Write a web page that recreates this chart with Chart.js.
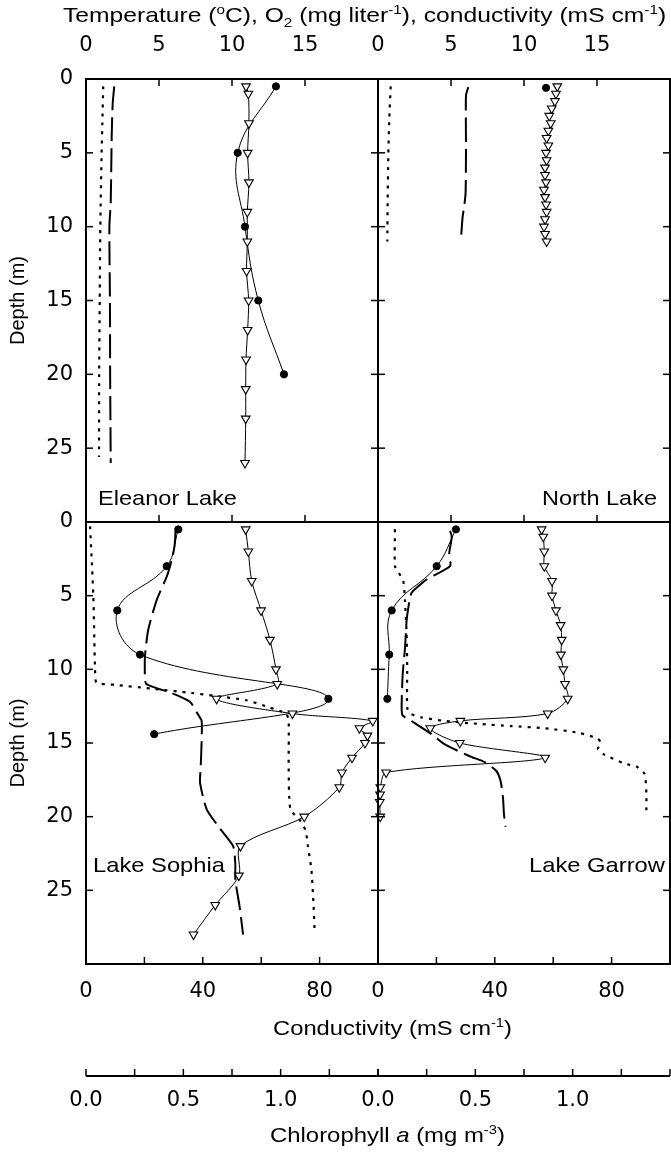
<!DOCTYPE html>
<html>
<head>
<meta charset="utf-8">
<script src="https://cdn.jsdelivr.net/npm/chart.js@4.4.1/dist/chart.umd.min.js"></script>
<style>
  html, body { margin: 0; padding: 0; background: #fff; }
  #fig { position: relative; width: 671px; height: 1152px; overflow: hidden; background: #fff; }
  #fig canvas { position: absolute; left: 0; top: 0; }
  .lbl { position: absolute; font-family: "Liberation Sans", Arial, sans-serif; font-size: 21px; line-height: 21px;
         white-space: nowrap; color: #000; transform-origin: 0 0; }
  .lbl sup, .lbl sub { font-size: 13px; line-height: 0; }
</style>
</head>
<body>
<div id="fig">
  <canvas id="elCanvas" width="671" height="1152"></canvas>
  <canvas id="nlCanvas" width="671" height="1152"></canvas>
  <canvas id="lsCanvas" width="671" height="1152"></canvas>
  <canvas id="lgCanvas" width="671" height="1152"></canvas>

  <div class="lbl" data-l="63" data-r="666" style="top:4px">Temperature (<sup>o</sup>C), O<sub>2</sub> (mg liter<sup>-1</sup>), conductivity (mS cm<sup>-1</sup>)</div>
  <div class="lbl" data-l="98" data-r="237" style="top:487px">Eleanor Lake</div>
  <div class="lbl" data-l="542" data-r="657" style="top:487px">North Lake</div>
  <div class="lbl" data-l="93" data-r="225" style="top:854px">Lake Sophia</div>
  <div class="lbl" data-l="529" data-r="665" style="top:854px">Lake Garrow</div>
  <div class="lbl" data-l="273" data-r="512" style="top:1017px">Conductivity (mS cm<sup>-1</sup>)</div>
  <div class="lbl" data-l="270" data-r="505" style="top:1124px">Chlorophyll <i>a</i> (mg m<sup>-3</sup>)</div>
</div>
<script>
// axis ticks and labels
const depthTicks = [5, 10, 15, 20, 25];
const depthLabels = [0, 5, 10, 15, 20, 25];
const tempTicks = [5, 10, 15];
const tempLabels = [0, 5, 10, 15];
const condTicks = [20, 40, 60, 80];
const condLabels = [0, 40, 80];
const chlTicks = [0, 0.25, 0.5, 0.75, 1, 1.25, 1.5];
const chlLabels = [0, 0.5, 1];

// Eleanor Lake
const elTempDepth = [0.5, 1, 3, 5, 7, 9, 11, 13, 15, 17, 19, 21, 23, 26];
const elTemp = [10.96, 11.12, 11.16, 11.07, 11.16, 11.05, 11.05, 11.0, 11.14, 11.07, 10.96, 10.94, 10.94, 10.89];
const elO2Depth = [0.5, 5, 10, 15, 20];
const elO2 = [13.01, 10.39, 10.89, 11.8, 13.56];
const elCondDepth = [0.5, 3, 5, 10, 15, 20, 25.6];
const elCond = [1.18, 1.12, 1.07, 0.98, 0.94, 0.9, 0.89];
const elChlDepth = [0.5, 1.7, 3.9, 8.4, 10, 15, 20, 26];
const elChl = [0.145, 0.137, 0.132, 0.127, 0.12, 0.123, 0.124, 0.127];

// North Lake
const nlTempDepth = [0.5, 1, 1.5, 2, 2.5, 3, 3.5, 4, 4.5, 5, 5.5, 6, 6.5, 7, 7.5, 8, 8.5, 9, 9.5, 10, 10.5, 11];
const nlTemp = [12.28, 12.19, 12.12, 11.9, 11.73, 11.83, 11.67, 11.55, 11.67, 11.51, 11.55, 11.44, 11.44, 11.51, 11.37, 11.44, 11.51, 11.55, 11.44, 11.37, 11.44, 11.55];
const nlO2Depth = [0.6];
const nlO2 = [11.51];
const nlCondDepth = [0.5, 2.8, 5, 8.4, 11];
const nlCond = [0.87, 0.77, 0.71, 0.66, 0.64];
const nlChlDepth = [0.55, 1.1, 4.8, 7.7, 8.6, 9.3, 11];
const nlChl = [0.464, 0.452, 0.452, 0.45, 0.443, 0.435, 0.425];

// Lake Sophia
const lsTempDepth = [0.5, 2, 4, 6, 8, 10, 11, 12, 13, 13.5, 14, 14.5, 15, 16, 17, 18, 20, 22, 24, 26, 28];
const lsTemp = [10.94, 11.12, 11.35, 11.99, 12.6, 13.01, 13.1, 8.94, 14.14, 19.64, 18.73, 19.28, 19.11, 18.22, 17.53, 17.35, 14.95, 10.58, 10.47, 8.85, 7.36];
const lsO2Depth = [0.5, 3, 6, 9, 12, 14.4];
const lsO2 = [6.32, 5.53, 2.14, 3.7, 16.6, 4.67];
const lsCondDepth = [0.3, 5, 10, 10.9, 11.05, 11.3, 11.6, 11.8, 12.1, 12.6, 13.0, 13.5, 16.6, 19.5, 20.3, 21, 22, 23.6, 25.9, 27.8];
const lsCond = [1.4, 2.5, 3.1, 3.6, 10, 22, 36, 44, 55, 63, 68.5, 69.4, 69.4, 70, 73.5, 75.3, 76, 77.2, 77.9, 78.3];
const lsChlDepth = [0.6, 1.6, 2.6, 3.7, 5.3, 7.3, 9.1, 10.7, 11.0, 11.35, 11.55, 12.2, 13.1, 13.5, 14.9, 16.7, 17.7, 19.5, 20.8, 22.0, 23.2, 24.3, 26.1, 28.0];
const lsChl = [0.46, 0.455, 0.44, 0.415, 0.363, 0.32, 0.303, 0.303, 0.31, 0.38, 0.43, 0.534, 0.577, 0.594, 0.594, 0.589, 0.586, 0.62, 0.688, 0.756, 0.767, 0.767, 0.789, 0.807];

// Lake Garrow
const lgTempDepth = [0.5, 1, 2, 3, 4, 5, 6, 7, 8, 9, 10, 11, 12, 13, 13.5, 14, 15, 16, 17, 18, 18.5, 19, 20];
const lgTemp = [11.21, 11.32, 11.39, 11.39, 11.92, 11.92, 12.19, 12.51, 12.58, 12.53, 12.69, 12.81, 12.99, 11.62, 5.64, 3.58, 5.6, 11.45, 0.56, 0.16, 0.14, 0.12, 0.15];
const lgO2Depth = [0.5, 3, 6, 9, 12];
const lgO2 = [5.34, 4.02, 0.94, 0.77, 0.64];
const lgCondDepth = [0.5, 3.0, 3.4, 4.0, 5.4, 7.6, 9.9, 12.6, 13.0, 13.26, 13.5, 13.7, 13.85, 14.0, 14.3, 14.7, 15.0, 15.4, 15.8, 16.4, 16.6, 17.1, 18.4, 19.9];
const lgCond = [5.8, 5.8, 6.95, 8.66, 9.25, 9.8, 10.0, 10.0, 11, 14.8, 22.8, 34.2, 45.6, 57.1, 68.5, 75.3, 76.3, 75.3, 77.6, 84.5, 88.5, 91.3, 91.9, 91.9];
const lgChlDepth = [0.6, 1.0, 2.1, 3.0, 3.9, 4.8, 5.4, 6.7, 8.5, 10.3, 12.1, 13.1, 13.5, 14.4, 15.1, 15.9, 16.3, 16.9, 17.6, 18.7, 19.8, 20.7];
const lgChl = [0.37, 0.379, 0.366, 0.37, 0.25, 0.173, 0.161, 0.147, 0.139, 0.127, 0.122, 0.125, 0.171, 0.274, 0.343, 0.471, 0.548, 0.608, 0.63, 0.642, 0.647, 0.655];

const tickFont = { family: '"DejaVu Sans", sans-serif', size: 21 };

function pts(xs, ds) {
  return xs.map((v, i) => ({ x: v, y: ds[i] }));
}

// inward tick marks, the panel frame and the chlorophyll axis line
const frameTicks = {
  id: 'frameTicks',
  afterDraw(chart, args, o) {
    const { ctx, chartArea: a, scales } = chart;
    const L = 7;
    const mark = (x1, y1, x2, y2) => { ctx.beginPath(); ctx.moveTo(x1, y1); ctx.lineTo(x2, y2); ctx.stroke(); };
    ctx.save();
    ctx.strokeStyle = '#000';
    ctx.lineWidth = 1.5;
    depthTicks.forEach(v => {
      const p = scales.y.getPixelForValue(v);
      mark(a.left, p, a.left + L, p);
      mark(a.right, p, a.right - L, p);
    });
    if (o.upper) {
      tempTicks.forEach(v => {
        const p = scales.x.getPixelForValue(v);
        mark(p, a.top, p, a.top + L);
        mark(p, a.bottom, p, a.bottom - L);
      });
    } else {
      condTicks.forEach(v => {
        const p = scales.xc.getPixelForValue(v);
        mark(p, a.bottom, p, a.bottom - L);
      });
      const s = scales.xchl;
      ctx.lineWidth = 2;
      mark(s.left, s.top, s.right, s.top);
      ctx.lineWidth = 1.5;
      chlTicks.forEach(v => {
        const p = s.getPixelForValue(v);
        mark(p, s.top, p, s.top - L);
      });
    }
    ctx.lineWidth = 2;
    ctx.strokeRect(a.left, a.top, a.right - a.left, a.bottom - a.top);
    ctx.restore();
  }
};

function profileSets(tD, t, oD, o, cD, c, chD, ch, upper) {
  return [
    { data: pts(t, tD), xAxisID: 'x', yAxisID: 'y', showLine: true, borderColor: '#000', borderWidth: 1, tension: 0.3,
      pointStyle: 'triangle', pointRotation: 180, pointRadius: 5, pointBackgroundColor: '#fff',
      pointBorderColor: '#000', pointBorderWidth: 1.1, clip: false },
    { data: pts(o, oD), xAxisID: 'x', yAxisID: 'y', showLine: true, borderColor: '#000', borderWidth: 1, tension: 0.4,
      pointStyle: 'circle', pointRadius: 3.6, pointBackgroundColor: '#000', pointBorderColor: '#000', clip: false },
    { data: pts(ch, chD), xAxisID: 'xchl', yAxisID: 'y', showLine: true, borderColor: '#000', borderWidth: 2,
      borderDash: [24, 7], tension: 0.2, pointRadius: 0 },
    { data: pts(c, cD), xAxisID: upper ? 'x' : 'xc', yAxisID: 'y', showLine: true, borderColor: '#000', borderWidth: 2.2,
      borderDash: [3, 6], tension: 0.2, pointRadius: 0 }
  ];
}

// fixed axis sizes; hidden axes keep zero size
function fixHeight(h) {
  return s => { s.height = s.options.display ? h : 0; };
}
function fixWidth(w) {
  return s => { s.width = s.options.display ? w : 0; };
}

function panelScales(upper, left) {
  const noGrid = { display: false, drawTicks: false };
  const noBorder = { display: false };
  return {
    x: {
      type: 'linear', axis: 'x', position: 'top', min: 0, max: 20, display: upper,
      grid: noGrid, border: noBorder,
      afterBuildTicks: s => { s.ticks = tempLabels.map(v => ({ value: v })); },
      ticks: { font: tickFont, color: '#000', padding: 21, autoSkip: false, maxRotation: 0 },
      afterFit: fixHeight(79)
    },
    xc: {
      type: 'linear', axis: 'x', position: 'bottom', min: 0, max: 100, display: !upper, weight: 0,
      grid: noGrid, border: noBorder,
      afterBuildTicks: s => { s.ticks = condLabels.map(v => ({ value: v })); },
      ticks: { font: tickFont, color: '#000', padding: 15, autoSkip: false, maxRotation: 0 },
      afterFit: fixHeight(112)
    },
    xchl: {
      type: 'linear', axis: 'x', position: 'bottom', min: 0, max: 1.5, display: !upper, weight: 1,
      grid: noGrid, border: noBorder,
      afterBuildTicks: s => { s.ticks = chlLabels.map(v => ({ value: v })); },
      ticks: { font: tickFont, color: '#000', padding: 12, autoSkip: false, maxRotation: 0,
               callback: v => v.toFixed(1) },
      afterFit: fixHeight(76)
    },
    y: {
      type: 'linear', position: 'left', min: 0, max: 30, reverse: true, display: left,
      grid: noGrid, border: noBorder,
      afterBuildTicks: s => { s.ticks = depthLabels.map(v => ({ value: v })); },
      ticks: { font: tickFont, color: '#000', padding: 13, autoSkip: false },
      title: { display: true, text: 'Depth (m)', color: '#000', padding: { top: 6, bottom: 0 },
               font: { family: '"Liberation Sans", Arial, sans-serif', size: 20 } },
      afterFit: fixWidth(86)
    }
  };
}

function makePanel(id, sets, upper, left, padding) {
  return new Chart(document.getElementById(id), {
    type: 'scatter',
    data: { datasets: sets },
    options: {
      responsive: false,
      animation: false,
      devicePixelRatio: 1,
      events: [],
      layout: { padding: padding, autoPadding: false },
      scales: panelScales(upper, left),
      plugins: { legend: { display: false }, tooltip: { enabled: false }, frameTicks: { upper: upper } }
    },
    plugins: [frameTicks]
  });
}

makePanel('elCanvas', profileSets(elTempDepth, elTemp, elO2Depth, elO2, elCondDepth, elCond, elChlDepth, elChl, true),
  true, true, { left: 0, top: 0, right: 293, bottom: 630 });
makePanel('nlCanvas', profileSets(nlTempDepth, nlTemp, nlO2Depth, nlO2, nlCondDepth, nlCond, nlChlDepth, nlChl, true),
  true, false, { left: 378, top: 0, right: 1, bottom: 630 });
makePanel('lsCanvas', profileSets(lsTempDepth, lsTemp, lsO2Depth, lsO2, lsCondDepth, lsCond, lsChlDepth, lsChl, false),
  false, true, { left: 0, top: 522, right: 293, bottom: 0 });
makePanel('lgCanvas', profileSets(lgTempDepth, lgTemp, lgO2Depth, lgO2, lgCondDepth, lgCond, lgChlDepth, lgChl, false),
  false, false, { left: 378, top: 522, right: 1, bottom: 0 });

// stretch each text line to its span
document.querySelectorAll('.lbl').forEach(el => {
  const l = +el.dataset.l, r = +el.dataset.r;
  el.style.left = l + 'px';
  const w = el.getBoundingClientRect().width;
  el.style.transform = 'scaleX(' + ((r - l) / w).toFixed(3) + ')';
});
</script>
</body>
</html>
